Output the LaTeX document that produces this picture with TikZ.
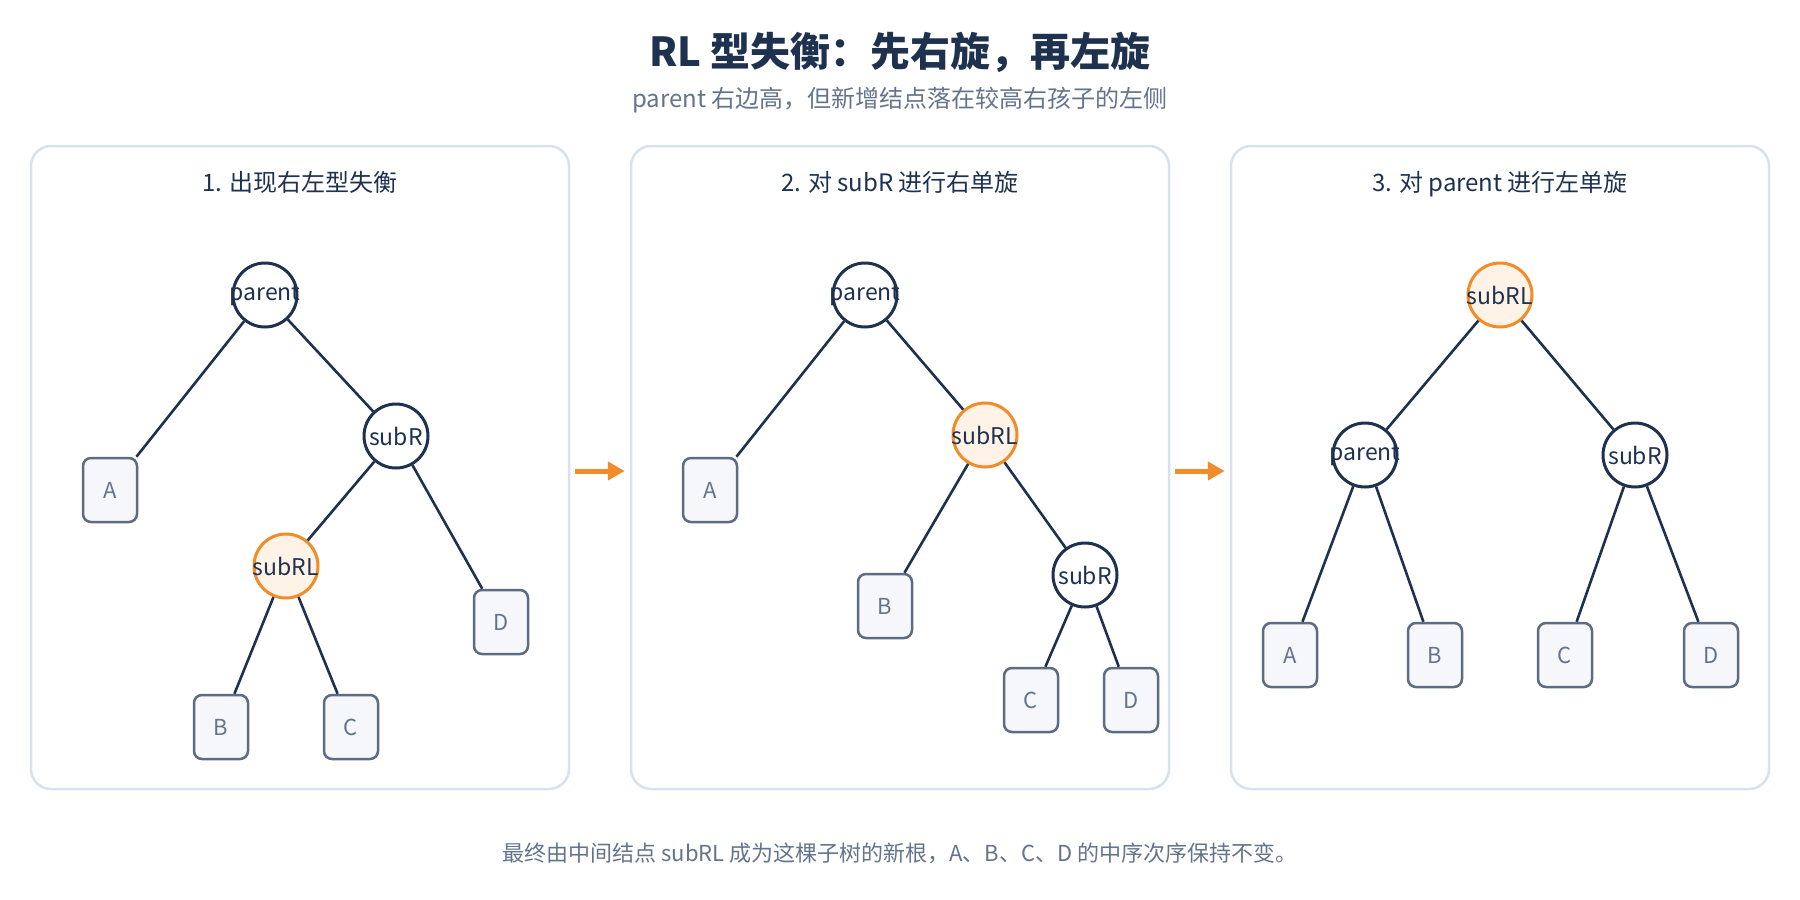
\documentclass[tikz,border=0pt]{standalone}
\usepackage{fontspec}
\setmainfont{Noto Sans CJK SC}
\usepackage{tikz}
\usetikzlibrary{positioning, arrows.meta}

\definecolor{navy}{HTML}{1E3250}
\definecolor{slate}{HTML}{64748B}
\definecolor{leafline}{HTML}{5E6B80}
\definecolor{leaffill}{HTML}{F5F7FB}
\definecolor{panelline}{HTML}{D8E1EE}
\definecolor{hotline}{HTML}{F28C28}
\definecolor{hotfill}{HTML}{FEF3E6}
\newcommand{\pxfont}[1]{\fontsize{#1}{#1}\selectfont}
\newcommand{\nodelabel}[1]{\makebox[0pt]{#1}}

\begin{document}
\begin{tikzpicture}[
 x=1pt, y=-1pt,
 panel/.style={rectangle, rounded corners=20pt, draw=panelline, line width=2.5pt,
   fill=white, minimum width=538pt, minimum height=643pt},
 paneltitle/.style={inner sep=0pt, text=navy, font=\pxfont{24}},
 tnode/.style={circle, draw=navy, line width=3pt, fill=white,
   minimum size=64pt, inner sep=0pt, text=navy, font=\pxfont{23}},
 hot/.style={tnode, draw=hotline, fill=hotfill},
 leaf/.style={rectangle, rounded corners=8pt, draw=leafline, fill=leaffill,
   line width=2.5pt, minimum width=54pt, minimum height=64pt, inner sep=0pt,
   text=slate, font=\pxfont{22}},
 link/.style={draw=navy, line width=2.6pt},
 turn/.style={-{Triangle[length=17pt, width=18pt]}, draw=hotline, line width=5pt}
]
\useasboundingbox (0,0) rectangle (1800,900);
\node[text=navy, font=\pxfont{40}\bfseries] (title) at (900,52) {RL 型失衡：先右旋，再左旋};
\node[text=slate, font=\pxfont{24}] (subtitle) at (900,100) {parent 右边高，但新增结点落在较高右孩子的左侧};

\node[panel] (p1) at (300,467.5) {};
\node[panel] (p2) at (900,467.5) {};
\node[panel] (p3) at (1500,467.5) {};
\node[paneltitle, below=26pt of p1.north] (t1) {1. 出现右左型失衡};
\node[paneltitle, below=26pt of p2.north] (t2) {2. 对 subR 进行右单旋};
\node[paneltitle, below=26pt of p3.north] (t3) {3. 对 parent 进行左单旋};

\node[tnode] (pa1) at (265,295) {\nodelabel{parent}};
\node[tnode] (sr1) at (396,436) {\nodelabel{subR}};
\node[hot] (srl1) at (286,566) {\nodelabel{subRL}};
\node[leaf] (a1) at (110,490) {A};
\node[leaf] (b1) at (221,727) {B};
\node[leaf] (c1) at (351,727) {C};
\node[leaf] (d1) at (501,622) {D};
\draw[link] (pa1) -- (a1) (pa1) -- (sr1) (sr1) -- (srl1) (sr1) -- (d1)
  (srl1) -- (b1) (srl1) -- (c1);

\node[tnode] (pa2) at (865,295) {\nodelabel{parent}};
\node[hot] (srl2) at (985,435) {\nodelabel{subRL}};
\node[tnode] (sr2) at (1085,575) {\nodelabel{subR}};
\node[leaf] (a2) at (710,490) {A};
\node[leaf] (b2) at (885,606) {B};
\node[leaf] (c2) at (1031,700) {C};
\node[leaf] (d2) at (1131,700) {D};
\draw[link] (pa2) -- (a2) (pa2) -- (srl2) (srl2) -- (b2) (srl2) -- (sr2)
  (sr2) -- (c2) (sr2) -- (d2);

\node[hot] (srl3) at (1500,295) {\nodelabel{subRL}};
\node[tnode] (pa3) at (1365,455) {\nodelabel{parent}};
\node[tnode] (sr3) at (1635,455) {\nodelabel{subR}};
\node[leaf] (a3) at (1290,655) {A};
\node[leaf] (b3) at (1435,655) {B};
\node[leaf] (c3) at (1565,655) {C};
\node[leaf] (d3) at (1711,655) {D};
\draw[link] (srl3) -- (pa3) (srl3) -- (sr3) (pa3) -- (a3) (pa3) -- (b3)
  (sr3) -- (c3) (sr3) -- (d3);

\draw[turn] ([xshift=5pt, yshift=-3.5pt]p1.east) -- ([xshift=-5pt, yshift=-3.5pt]p2.west);
\draw[turn] ([xshift=5pt, yshift=-3.5pt]p2.east) -- ([xshift=-5pt, yshift=-3.5pt]p3.west);

\node[text=slate, font=\pxfont{22}] (note) at (900,853)
  {最终由中间结点 subRL 成为这棵子树的新根，A、B、C、D 的中序次序保持不变。};
\end{tikzpicture}
\end{document}
